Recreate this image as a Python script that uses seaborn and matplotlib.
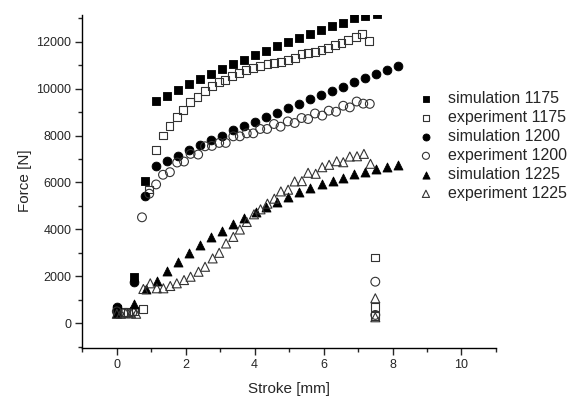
import matplotlib
matplotlib.use("Agg")
import matplotlib.pyplot as plt
import seaborn as sns
import numpy as np
import pandas as pd
from matplotlib.ticker import MultipleLocator

# ---------------- data ----------------
sim1175_x = [0.0, 0.5, 0.82, 1.13, 1.46, 1.78, 2.10, 2.41, 2.74, 3.06, 3.38, 3.70, 4.02, 4.34,
             4.66, 4.97, 5.29, 5.61, 5.93, 6.25, 6.57, 6.89, 7.21, 7.54]
sim1175_y = [600, 1980, 6050, 9470, 9707, 9962, 10204, 10416, 10641, 10854, 11053, 11223, 11435,
             11618, 11805, 11987, 12170, 12340, 12497, 12667, 12815, 12994, 13091, 13163]

exp1175_x = [0.0, 0.17, 0.33, 0.5, 0.77, 0.94, 1.13, 1.33, 1.53, 1.74, 1.93, 2.13, 2.34, 2.55, 2.75,
             2.96, 3.15, 3.35, 3.55, 3.76, 3.96, 4.16, 4.37, 4.57, 4.77, 4.97, 5.18, 5.36, 5.54,
             5.75, 5.94, 6.13, 6.33, 6.52, 6.70, 6.94, 7.12, 7.32, 7.5, 7.5, 7.5]
exp1175_y = [450, 480, 470, 500, 620, 5700, 7400, 8000, 8400, 8800, 9090, 9430, 9640, 9890, 10120,
             10300, 10374, 10556, 10670, 10798, 10895, 10967, 11040, 11095, 11150, 11210, 11320,
             11465, 11530, 11575, 11650, 11745, 11846, 11957, 12060, 12212, 12340, 12030, 2800, 680, 300]

sim1200_x = [0.0, 0.5, 0.82, 1.14, 1.46, 1.78, 2.10, 2.41, 2.74, 3.06, 3.38, 3.70, 4.02, 4.34,
             4.66, 4.97, 5.29, 5.61, 5.93, 6.25, 6.57, 6.89, 7.21, 7.52, 7.84, 8.17]
sim1200_y = [700, 1770, 5405, 6680, 6920, 7147, 7372, 7584, 7797, 7996, 8230, 8420, 8590, 8773,
             8972, 9172, 9355, 9537, 9724, 9907, 10080, 10276, 10446, 10641, 10798, 10955]

exp1200_x = [0.0, 0.25, 0.45, 0.73, 0.94, 1.14, 1.34, 1.54, 1.75, 1.95, 2.14, 2.36, 2.56, 2.76,
             2.97, 3.16, 3.38, 3.57, 3.77, 3.96, 4.16, 4.36, 4.56, 4.75, 4.96, 5.16, 5.36, 5.55,
             5.75, 5.96, 6.15, 6.36, 6.57, 6.76, 6.96, 7.15, 7.34, 7.5, 7.5]
exp1200_y = [500, 430, 450, 4513, 5520, 5915, 6327, 6437, 6849, 6891, 7218, 7189, 7541, 7558,
             7685, 7685, 7966, 7966, 8093, 8093, 8280, 8280, 8492, 8377, 8602, 8535, 8747, 8704,
             8940, 8850, 9060, 9015, 9270, 9200, 9450, 9360, 9350, 1767, 350]

sim1225_x = [0.0, 0.5, 0.84, 1.16, 1.47, 1.78, 2.10, 2.42, 2.74, 3.06, 3.38, 3.69, 4.03, 4.34,
             4.66, 4.97, 5.29, 5.60, 5.94, 6.26, 6.57, 6.89, 7.21, 7.52, 7.84, 8.15]
sim1225_y = [450, 820, 1444, 1810, 2234, 2617, 2998, 3338, 3652, 3945, 4216, 4478, 4720, 4940,
             5150, 5376, 5588, 5758, 5945, 6055, 6183, 6340, 6437, 6552, 6650, 6752]

exp1225_x = [0.0, 0.12, 0.26, 0.41, 0.56, 0.77, 0.97, 1.16, 1.35, 1.55, 1.74, 1.95, 2.14, 2.37,
             2.56, 2.78, 2.97, 3.17, 3.38, 3.57, 3.77, 3.98, 4.17, 4.37, 4.57, 4.76, 4.97, 5.16,
             5.37, 5.55, 5.77, 5.96, 6.16, 6.38, 6.57, 6.76, 6.97, 7.17, 7.36, 7.5, 7.5]
exp1225_y = [400, 400, 420, 420, 400, 1456, 1698, 1486, 1486, 1584, 1698, 1838, 1979, 2191,
             2403, 2760, 2998, 3397, 3677, 3991, 4314, 4641, 4853, 5095, 5307, 5617, 5690, 6042,
             6055, 6411, 6369, 6649, 6751, 6904, 6862, 7104, 7116, 7218, 6794, 1060, 250]

labels = ["simulation 1175", "experiment 1175", "simulation 1200",
          "experiment 1200", "simulation 1225", "experiment 1225"]
x_label = "Stroke [mm]"
y_label = "Force [N]"

# ---------------- plot ----------------
sns.set_style("ticks")
plt.rcParams["font.family"] = ["Liberation Sans", "DejaVu Sans"]

fig = plt.figure(figsize=(5.72, 3.99), dpi=100)
ax = fig.add_axes([0.144, 0.129, 0.723, 0.834])

series = [
    (sim1175_x, sim1175_y, "s", True, 32),
    (exp1175_x, exp1175_y, "s", False, 32),
    (sim1200_x, sim1200_y, "o", True, 40),
    (exp1200_x, exp1200_y, "o", False, 40),
    (sim1225_x, sim1225_y, "^", True, 42),
    (exp1225_x, exp1225_y, "^", False, 42),
]

for (xs, ys, m, filled, s), lab in zip(series, labels):
    df = pd.DataFrame({"x": xs, "y": ys})
    if filled:
        sns.scatterplot(data=df, x="x", y="y", marker=m, s=s, color="black",
                        edgecolor="black", linewidth=0.6, ax=ax, label=lab, zorder=3)
    else:
        sns.scatterplot(data=df, x="x", y="y", marker=m, s=s, color="black",
                        facecolor="none", edgecolor="#333333", linewidth=0.8, ax=ax,
                        label=lab, zorder=3)

ax.set_xlim(-1, 11)
ax.set_ylim(-1040, 13150)
ax.xaxis.set_major_locator(MultipleLocator(2))
ax.xaxis.set_minor_locator(MultipleLocator(1))
ax.yaxis.set_major_locator(MultipleLocator(2000))
ax.yaxis.set_minor_locator(MultipleLocator(1000))
ax.tick_params(which="major", direction="out", length=5, width=1.0, labelsize=9, pad=3)
ax.tick_params(which="minor", direction="out", length=3, width=1.0)
for side in ["top", "right"]:
    ax.spines[side].set_visible(False)
for side in ["left", "bottom"]:
    ax.spines[side].set_linewidth(1.0)
    ax.spines[side].set_color("black")

ax.set_xlabel(x_label, fontsize=11, labelpad=8)
ax.set_ylabel(y_label, fontsize=11, labelpad=3)

leg = ax.legend(loc="upper left", bbox_to_anchor=(0.796, 0.79), frameon=False,
                fontsize=11.5, handletextpad=0.9, labelspacing=0.25, markerscale=0.8,
                borderaxespad=0, handlelength=1.0)

fig.savefig("out.png", dpi=100)
